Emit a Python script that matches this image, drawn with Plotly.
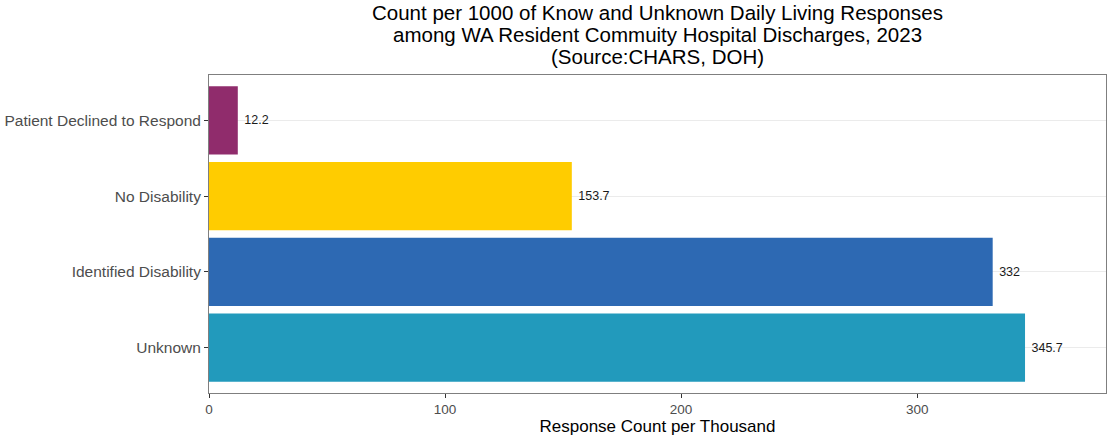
import plotly.graph_objects as go

# categories bottom-to-top as drawn
categories = ["Unknown", "Identified Disability", "No Disability", "Patient Declined to Respond"]
values = [345.7, 332, 153.7, 12.2]
labels = ["345.7", "332", "153.7", "12.2"]
colors = ["#229ABC", "#2D69B3", "#FFCC00", "#902C6C"]

title_lines = [
    "Count per 1000 of Know and Unknown Daily Living Responses",
    "among WA Resident Commuity Hospital Discharges, 2023",
    "(Source:CHARS, DOH)",
]

FONT = "Liberation Sans, Arial, sans-serif"

fig = go.Figure(go.Bar(
    x=values, y=categories, orientation="h",
    marker=dict(color=colors, line=dict(width=0)),
    width=0.9,
    text=labels, textposition="outside",
    texttemplate=" %{text}",
    textfont=dict(family=FONT, size=12.5, color="#1a1a1a"),
    cliponaxis=False,
    hovertemplate="%{y}: %{x}<extra></extra>",
))

fig.update_layout(
    width=1108, height=438,
    paper_bgcolor="white", plot_bgcolor="white",
    font=dict(family=FONT),
    margin=dict(l=209, r=2, t=75, b=45),
    showlegend=False,
)

# title as three tight lines (ggplot-like line spacing)
for line, yp in zip(title_lines, [1.198, 1.127, 1.057]):
    fig.add_annotation(text=line, xref="paper", yref="paper", x=0.5, y=yp,
                       xanchor="center", yanchor="middle", showarrow=False,
                       font=dict(family=FONT, size=20.5, color="black"))

fig.update_xaxes(
    range=[0, 380], tickvals=[0, 100, 200, 300],
    showgrid=False, zeroline=False, automargin=False,
    ticks="outside", ticklen=4, tickcolor="#333333",
    tickfont=dict(size=13.5, color="#4d4d4d"),
    showline=True, linecolor="#7f7f7f", linewidth=1, mirror=True,
    title=dict(text="Response Count per Thousand", font=dict(size=17, color="black"), standoff=3),
)
fig.update_yaxes(
    range=[-0.6, 3.6], categoryorder="array", categoryarray=categories,
    showgrid=True, gridcolor="#ebebeb", gridwidth=1, automargin=False,
    ticks="outside", ticklen=4, tickcolor="#333333",
    tickfont=dict(size=15.5, color="#4d4d4d"),
    showline=True, linecolor="#7f7f7f", linewidth=1, mirror=True,
)

# drop the default page margin so the figure sits at the window's corner
fig.write_html("out.html", config={"displayModeBar": False},
               post_script="document.body.style.margin='0';")
